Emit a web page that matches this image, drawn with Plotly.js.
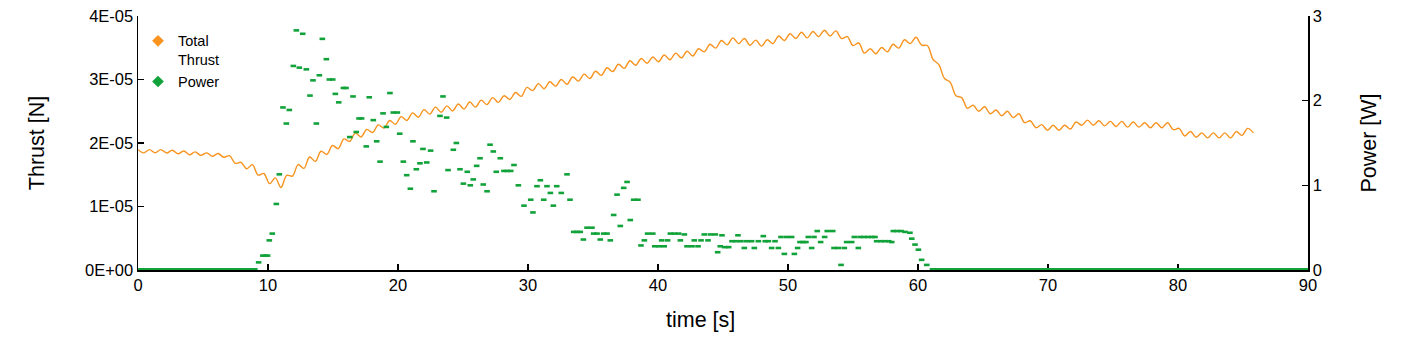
<!DOCTYPE html>
<html>
<head>
<meta charset="utf-8">
<script src="https://cdn.plot.ly/plotly-3.0.1.min.js"></script>
<style>
  html, body { margin: 0; padding: 0; background: #ffffff; }
  #chart { width: 1414px; height: 354px; }
</style>
</head>
<body>
<div id="chart"></div>
<script>
// ---- Data ----
// Total thrust, sampled every 0.44 s starting at t = 0 s (micro-newtons)
const thrustStartTime = 0;
const thrustStep = 0.44;
const thrustMicroNewton = [
  18.95, 18.45, 18.95, 18.45, 18.95, 18.42, 18.85, 18.30, 18.75, 18.15,
  18.60, 18.05, 18.45, 17.90, 18.35, 17.75, 18.00, 16.80, 16.95, 15.95,
  16.60, 14.95, 15.20, 13.60, 14.50, 13.00, 14.90, 14.80, 16.60, 16.00,
  17.80, 17.10, 18.70, 18.20, 19.60, 19.10, 20.65, 20.25, 21.55, 20.95,
  22.15, 21.65, 22.85, 22.35, 23.55, 22.95, 24.15, 23.55, 24.75, 24.05,
  25.25, 24.55, 25.65, 24.85, 25.85, 25.05, 26.15, 25.35, 26.45, 25.65,
  26.75, 26.05, 27.15, 26.40, 27.45, 26.85, 27.95, 27.35, 28.75, 28.25,
  29.35, 28.55, 29.65, 28.95, 30.00, 29.25, 30.40, 29.75, 30.85, 30.15,
  31.30, 30.65, 31.85, 31.25, 32.40, 31.75, 32.95, 32.25, 33.30, 32.55,
  33.55, 32.80, 33.85, 33.10, 34.15, 33.40, 34.45, 33.70, 34.85, 34.35,
  35.55, 34.95, 36.15, 35.45, 36.55, 35.65, 36.45, 35.40, 36.20, 35.25,
  36.25, 35.65, 36.85, 36.15, 37.20, 36.45, 37.45, 36.55, 37.55, 36.75,
  37.75, 36.85, 37.65, 36.45, 36.75, 35.35, 35.75, 34.15, 34.85, 34.05,
  35.05, 34.35, 35.55, 34.95, 36.25, 35.65, 36.65, 35.40, 35.35, 33.15,
  32.35, 30.15, 29.55, 27.45, 27.15, 25.45, 25.95, 25.00, 25.70, 24.60,
  25.20, 24.30, 25.00, 24.00, 24.60, 23.20, 23.50, 22.40, 22.90, 22.00,
  22.80, 22.00, 22.80, 22.20, 23.30, 22.80, 23.60, 22.80, 23.50, 22.70,
  23.40, 22.60, 23.40, 22.50, 23.30, 22.50, 23.20, 22.40, 23.20, 22.40,
  23.20, 22.10, 22.30, 21.10, 21.80, 20.90, 21.60, 20.80, 21.60, 20.80,
  21.60, 20.80, 21.80, 21.20, 22.30, 21.60
];

// Power readings (time in s, power in W)
const powerTime = [
  9.28, 9.60, 9.80, 9.97, 10.10, 10.33, 10.64, 10.87, 11.15, 11.41,
  11.64, 11.95, 12.18, 12.41, 12.67, 12.95, 13.23, 13.46, 13.72, 13.95,
  14.18, 14.49, 14.72, 14.98, 15.18, 15.44, 15.80, 16.00, 16.29, 16.54,
  16.79, 17.00, 17.20, 17.56, 17.79, 18.10, 18.36, 18.62, 18.85, 19.10,
  19.38, 19.64, 19.95, 20.13, 20.41, 20.67, 20.95, 21.15, 21.41, 21.69,
  21.92, 22.21, 22.51, 22.77, 23.23, 23.46, 23.74, 23.85, 24.26, 24.49,
  24.77, 25.03, 25.33, 25.56, 25.79, 26.05, 26.31, 26.56, 26.85, 27.08,
  27.33, 27.56, 27.87, 28.15, 28.40, 28.67, 28.92, 29.26, 29.69, 30.21,
  30.38, 30.69, 30.95, 31.21, 31.46, 31.72, 31.95, 32.21, 32.56, 33.00,
  33.23, 33.52, 33.77, 34.02, 34.26, 34.54, 34.92, 35.05, 35.31, 35.56,
  35.82, 36.08, 36.33, 36.59, 36.85, 37.10, 37.36, 37.62, 37.87, 38.13,
  38.46, 38.69, 38.95, 39.20, 39.60, 39.75, 40.10, 40.28, 40.48, 40.74,
  40.95, 41.25, 41.59, 41.72, 42.03, 42.23, 42.62, 42.79, 43.08, 43.31,
  43.56, 43.85, 44.03, 44.41, 44.59, 44.79, 44.92, 45.13, 45.44, 45.69,
  46.00, 46.15, 46.38, 46.64, 46.82, 47.20, 47.41, 47.72, 48.10, 48.25,
  48.49, 48.74, 49.00, 49.26, 49.46, 49.72, 49.90, 50.28, 50.49, 50.74,
  50.92, 51.15, 51.38, 51.56, 51.82, 52.00, 52.25, 52.51, 52.82, 53.02,
  53.44, 53.54, 53.87, 54.08, 54.33, 54.51, 54.90, 55.10, 55.41, 55.54,
  55.85, 56.15, 56.45, 56.69, 56.82, 57.15, 57.45, 57.75, 57.98, 58.10,
  58.40, 58.70, 59.00, 59.38, 59.52, 59.77, 60.03, 60.28, 60.67
];
const powerWatt = [
  0.09, 0.17, 0.17, 0.17, 0.35, 0.43, 0.78, 1.13, 1.92, 1.73,
  1.89, 2.41, 2.83, 2.39, 2.79, 2.37, 2.06, 2.24, 1.73, 2.30,
  2.73, 2.49, 2.25, 2.25, 2.08, 1.98, 2.15, 2.15, 1.57, 2.05,
  1.63, 1.79, 1.79, 1.46, 2.04, 1.77, 1.52, 1.28, 1.85, 1.69,
  2.09, 1.86, 1.86, 1.61, 1.28, 1.12, 0.96, 1.52, 1.19, 1.26,
  1.43, 1.27, 1.41, 0.93, 1.82, 2.05, 1.80, 1.18, 1.42, 1.50,
  1.19, 1.02, 1.16, 1.00, 1.07, 1.23, 1.32, 1.01, 0.93, 1.48,
  1.40, 1.16, 1.32, 1.17, 1.17, 1.17, 1.24, 1.00, 0.76, 0.83,
  0.68, 0.99, 1.06, 0.83, 0.99, 0.91, 0.76, 0.99, 0.91, 1.13,
  0.83, 0.45, 0.45, 0.45, 0.36, 0.50, 0.50, 0.43, 0.43, 0.36,
  0.43, 0.43, 0.35, 0.65, 0.89, 0.52, 0.97, 1.04, 0.59, 0.83,
  0.83, 0.29, 0.35, 0.43, 0.43, 0.28, 0.28, 0.35, 0.28, 0.35,
  0.43, 0.43, 0.43, 0.35, 0.42, 0.28, 0.28, 0.35, 0.28, 0.35,
  0.42, 0.35, 0.42, 0.42, 0.21, 0.28, 0.41, 0.27, 0.27, 0.34,
  0.34, 0.41, 0.34, 0.26, 0.34, 0.34, 0.26, 0.34, 0.40, 0.34,
  0.34, 0.26, 0.34, 0.26, 0.39, 0.19, 0.39, 0.39, 0.19, 0.26,
  0.33, 0.33, 0.33, 0.39, 0.26, 0.39, 0.46, 0.33, 0.39, 0.46,
  0.46, 0.26, 0.26, 0.06, 0.26, 0.33, 0.33, 0.39, 0.26, 0.39,
  0.39, 0.39, 0.39, 0.39, 0.34, 0.34, 0.34, 0.34, 0.33, 0.46,
  0.46, 0.46, 0.45, 0.44, 0.37, 0.30, 0.24, 0.12, 0.06
];
// Stretches where the power reading sits at 0 W (start and end times, s)
const zeroPowerTime = [0, 9.2, null, 60.9, 90];
const zeroPowerWatt = [0, 0, null, 0, 0];

// Axis ticks
const thrustTickValues = [0, 1e-5, 2e-5, 3e-5, 4e-5];
const thrustTickLabels = ['0E+00', '1E-05', '2E-05', '3E-05', '4E-05'];
const powerTickValues = [0, 1, 2, 3];
const powerTickLabels = ['0', '1', '2', '3'];
const timeTickValues = [0, 10, 20, 30, 40, 50, 60, 70, 80, 90];

const seriesNames = ['Total<br>Thrust', 'Power'];
const timeAxisTitle = 'time [s]';

// ---- Chart ----
const ORANGE = '#f7931e';
const GREEN = '#12a23a';
const FONT = 'Liberation Sans, Arial, sans-serif';

const thrustNewton = thrustMicroNewton.map(v => v * 1e-6);

const traces = [
  {
    type: 'scatter', mode: 'lines',
    x0: thrustStartTime, dx: thrustStep, y: thrustNewton,
    line: { color: ORANGE, width: 1.4, shape: 'spline', smoothing: 1 },
    yaxis: 'y', showlegend: false, hoverinfo: 'skip'
  },
  {
    type: 'scatter', mode: 'lines',
    x: zeroPowerTime, y: zeroPowerWatt,
    line: { color: GREEN, width: 4 },
    yaxis: 'y2', showlegend: false, hoverinfo: 'skip'
  },
  {
    type: 'scatter', mode: 'markers',
    x: powerTime, y: powerWatt,
    marker: { symbol: 'line-ew', size: 4, color: GREEN, line: { color: GREEN, width: 2.6 } },
    yaxis: 'y2', showlegend: false, cliponaxis: false
  },
  {
    type: 'scatter', mode: 'markers', x: [null], y: [null], name: seriesNames[0],
    marker: { symbol: 'diamond', size: 9, color: ORANGE }, showlegend: true
  },
  {
    type: 'scatter', mode: 'markers', x: [null], y: [null], name: seriesNames[1],
    marker: { symbol: 'diamond', size: 9, color: GREEN }, showlegend: true
  }
];

const axisCommon = {
  showgrid: false, zeroline: false, showline: true,
  linecolor: '#000000', linewidth: 1.5,
  ticks: 'inside', ticklen: 6, tickwidth: 1.5, tickcolor: '#000000',
  tickfont: { family: FONT, size: 16.5, color: '#000000' },
  layer: 'below traces', automargin: false
};

const layout = {
  width: 1414, height: 354,
  margin: { l: 138, r: 106, t: 16, b: 84 },
  paper_bgcolor: '#ffffff', plot_bgcolor: '#ffffff',
  font: { family: FONT, color: '#000000' },
  showlegend: true,
  legend: {
    x: 0.0, y: 0.965, xanchor: 'left', yanchor: 'top',
    bgcolor: 'rgba(0,0,0,0)', borderwidth: 0,
    font: { family: FONT, size: 14.5, color: '#000000' },
    itemwidth: 30, tracegroupgap: 0, valign: 'top'
  },
  xaxis: Object.assign({}, axisCommon, {
    range: [0, 90], tickvals: timeTickValues
  }),
  yaxis: Object.assign({}, axisCommon, {
    range: [0, 4e-5], tickvals: thrustTickValues, ticktext: thrustTickLabels,
    title: { text: 'Thrust [N]', font: { family: FONT, size: 21.5, color: '#000000' }, standoff: 34 }
  }),
  yaxis2: Object.assign({}, axisCommon, {
    range: [0, 3], tickvals: powerTickValues, ticktext: powerTickLabels,
    overlaying: 'y', side: 'right',
    title: { text: 'Power [W]', font: { family: FONT, size: 21.5, color: '#000000' }, standoff: 40 }
  }),
  annotations: [{
    text: timeAxisTitle, xref: 'paper', yref: 'paper',
    x: (700 - 138) / 1170, y: -0.195, xanchor: 'center', yanchor: 'middle',
    showarrow: false, font: { family: FONT, size: 21.5, color: '#000000' }
  }]
};

Plotly.newPlot('chart', traces, layout, { displayModeBar: false, staticPlot: true });
</script>
</body>
</html>
